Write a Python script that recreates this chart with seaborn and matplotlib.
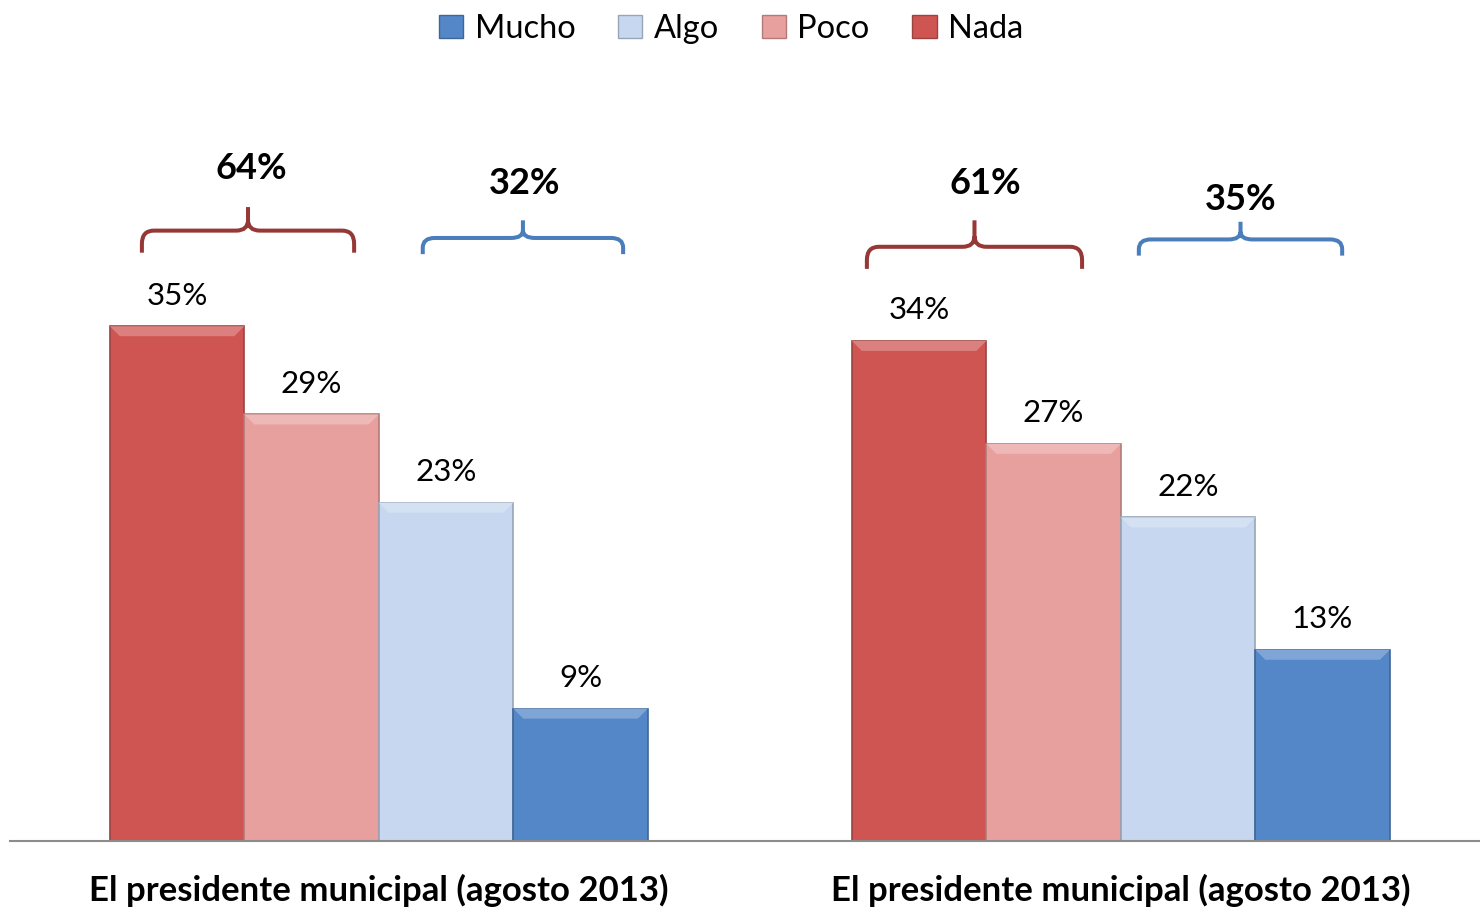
import pandas as pd
import matplotlib.pyplot as plt
import seaborn as sns
from matplotlib.patches import Patch, PathPatch, Polygon
from matplotlib.path import Path
from matplotlib.colors import to_rgb

# datos
grupos = ["El presidente municipal (agosto 2013)", "El presidente municipal (agosto 2013)"]
categorias = ["Nada", "Poco", "Algo", "Mucho"]
valores_g1 = [35, 29, 23, 9]
valores_g2 = [34, 27, 22, 13]
totales = [64, 32, 61, 35]   # Nada+Poco, Algo+Mucho por grupo
colores = {"Nada": "#CF5553", "Poco": "#E7A09E", "Algo": "#C6D7EF", "Mucho": "#5487C8"}
bordes = {"Nada": "#9A4442", "Poco": "#B07B79", "Algo": "#98A5B8", "Mucho": "#3F6696"}

df = pd.DataFrame({
    "grupo": ["g1"] * 4 + ["g2"] * 4,
    "categoria": categorias * 2,
    "valor": valores_g1 + valores_g2,
})

sns.set_style("white")
plt.rcParams["font.family"] = ["Lato", "DejaVu Sans"]
plt.rcParams["text.color"] = "black"
plt.rcParams["xtick.color"] = "black"

fig = plt.figure(figsize=(14.8, 9.09), dpi=100)
ax = fig.add_axes([10 / 1480, 68 / 909, 1470 / 1480, 781 / 909])

sns.barplot(data=df, x="grupo", y="valor", hue="categoria", hue_order=categorias,
            palette=colores, width=0.725, gap=0, saturation=1, legend=False, ax=ax)

ax.set_xlim(-0.497, 1.484)
ax.set_ylim(0, 53.1)


def aclarar(c, f):
    r, g, b = to_rgb(c)
    return (r + (1 - r) * f, g + (1 - g) * f, b + (1 - b) * f)


# unidades por pixel
ux = (1.484 + 0.497) / 1470
uy = 53.1 / 781

for cont, cat in zip(ax.containers, categorias):
    for b in cont:
        b.set_edgecolor(bordes[cat])
        b.set_linewidth(1.2)
        x, w, h = b.get_x(), b.get_width(), b.get_height()
        # biselado superior
        ax.add_patch(Polygon([(x, h), (x + w, h), (x + w - 10 * ux, h - 10 * uy),
                              (x + 10 * ux, h - 10 * uy)],
                             closed=True, facecolor=aclarar(colores[cat], 0.25),
                             edgecolor="none", zorder=b.get_zorder() + 0.1))
    ax.bar_label(cont, fmt="%d%%", padding=12, fontsize=22.5)

ax.set_yticks([])
ax.set_ylabel("")
ax.set_xlabel("")
ax.set_xticks([0, 1])
ax.set_xticklabels(grupos, fontsize=25, fontweight="bold")
ax.tick_params(axis="x", length=0, pad=24)
for s in ["top", "right", "left"]:
    ax.spines[s].set_visible(False)
ax.spines["bottom"].set_color("#8C8C8C")
ax.spines["bottom"].set_linewidth(1.5)


def llave(x0, x1, y_base, y_h, y_tip, color):
    rx = 12 * ux
    ry = (y_h - y_base) * 0.6
    xc = (x0 + x1) / 2
    verts = [(x0, y_base), (x0, y_h - ry), (x0, y_h), (x0 + rx, y_h),
             (xc - rx, y_h), (xc, y_h), (xc, y_h + ry * 0.8), (xc, y_tip),
             (xc, y_h + ry * 0.8), (xc, y_h), (xc + rx, y_h),
             (x1 - rx, y_h), (x1, y_h), (x1, y_h - ry), (x1, y_base)]
    codes = [Path.MOVETO, Path.LINETO, Path.CURVE3, Path.CURVE3,
             Path.LINETO, Path.CURVE3, Path.CURVE3, Path.LINETO,
             Path.MOVETO, Path.CURVE3, Path.CURVE3,
             Path.LINETO, Path.CURVE3, Path.CURVE3, Path.LINETO]
    ax.add_patch(PathPatch(Path(verts, codes), fill=False, edgecolor=color,
                           linewidth=2.9, capstyle="butt", clip_on=False))


w = 0.725 / 4
rojo, azul = "#963836", "#4A7EBB"
# (grupo, lado, desplazamiento, media anchura, base, horizontal, punta, texto, dx texto)
niveles = [(0, 0, 0.005, 0.143, 40.0, 41.5, 43.1, 45.7, 0.004),
           (0, 1, 0.013, 0.135, 39.9, 41.0, 42.2, 44.7, 0.002),
           (1, 0, -0.016, 0.145, 38.9, 40.4, 42.2, 44.7, 0.014),
           (1, 1, -0.020, 0.137, 39.8, 40.9, 42.1, 43.6, 0.0)]
for (g, lado, dx, hw, yb, yh, yt, ytxt, dtx), tot in zip(niveles, totales):
    centro = g + (-w if lado == 0 else w) + dx
    llave(centro - hw, centro + hw, yb, yh, yt, rojo if lado == 0 else azul)
    ax.text(centro + dtx, ytxt, f"{tot}%", ha="center", va="center",
            fontsize=26, fontweight="bold")

orden_leyenda = ["Mucho", "Algo", "Poco", "Nada"]
handles = [Patch(facecolor=colores[c], edgecolor=bordes[c], label=c) for c in orden_leyenda]
fig.legend(handles=handles, loc="upper center", bbox_to_anchor=(0.494, 1.017), ncol=4,
           frameon=False, fontsize=23.5, handlelength=0.75, handleheight=0.75,
           handletextpad=0.35, columnspacing=1.3)

plt.savefig("out.png", dpi=100)
